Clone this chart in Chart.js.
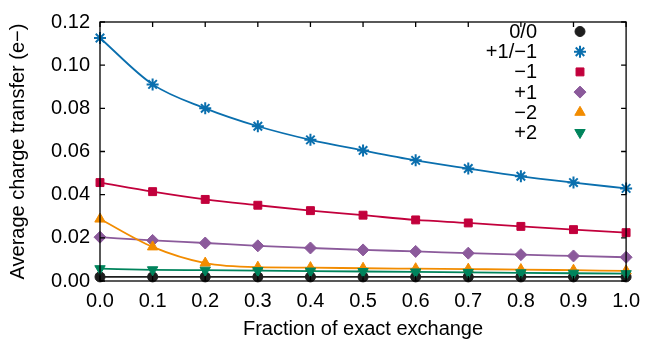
<!DOCTYPE html>
<html><head><meta charset="utf-8">
<script src="https://cdn.jsdelivr.net/npm/chart.js@4/dist/chart.umd.min.js"></script>
<style>html,body{margin:0;padding:0;background:#fff}</style>
</head><body>
<canvas id="c" width="648" height="341"></canvas>
<script>
const xValues = [0.0, 0.1, 0.2, 0.3, 0.4, 0.5, 0.6, 0.7, 0.8, 0.9, 1.0];
const seriesLabels = ['0/0', '+1/\u22121', '\u22121', '+1', '\u22122', '+2'];
const s00   = [0.0019, 0.0019, 0.0019, 0.0019, 0.0019, 0.0019, 0.0019, 0.0019, 0.0019, 0.0019, 0.0019];
const sP1M1 = [0.1126, 0.0911, 0.0800, 0.0717, 0.0654, 0.0605, 0.0559, 0.0521, 0.0485, 0.0456, 0.0429];
const sM1   = [0.0456, 0.0414, 0.0378, 0.0351, 0.0326, 0.0305, 0.0283, 0.0269, 0.0253, 0.0238, 0.0224];
const sP1   = [0.0203, 0.0188, 0.0176, 0.0163, 0.0153, 0.0144, 0.0137, 0.0129, 0.0122, 0.0116, 0.0110];
const sM2   = [0.0287, 0.0158, 0.0083, 0.0064, 0.0062, 0.0059, 0.0057, 0.0055, 0.0053, 0.0050, 0.0047];
const sP2   = [0.0057, 0.0052, 0.0050, 0.0048, 0.0046, 0.0044, 0.0042, 0.0040, 0.0038, 0.0036, 0.0034];
const xTicks = ['0.0','0.1','0.2','0.3','0.4','0.5','0.6','0.7','0.8','0.9','1.0'];
const yTicks = ['0.00','0.02','0.04','0.06','0.08','0.10','0.12'];

const allSeries = [s00, sP1M1, sM1, sP1, sM2, sP2];
const colors = ['#1e1e1e', '#0a6fae', '#c2003c', '#8b5a9b', '#f28c00', '#00845c'];
const styles = ['circle', 'star', 'rect', 'rectRot', 'triangle', 'triangle'];
const rotations = [0, 0, 0, 0, 0, 180];
const radii = [5, 6, 5.6, 6, 6, 6];

const FONT = '"Liberation Sans", Arial, sans-serif';
const FS = 20;

const datasets = allSeries.map((vals, i) => ({
  label: seriesLabels[i],
  data: xValues.map((x, j) => ({x: x, y: vals[j]})),
  borderColor: colors[i],
  backgroundColor: colors[i],
  pointBackgroundColor: colors[i],
  pointBorderColor: colors[i],
  pointBorderWidth: i === 1 ? 2 : 1,
  pointStyle: styles[i],
  rotation: rotations[i],
  pointRadius: radii[i],
  borderWidth: 1.8,
  cubicInterpolationMode: 'monotone',
  clip: false,
  order: 10 - i
}));

const framePlugin = {
  id: 'frame',
  afterDatasetsDraw(chart) {
    const ctx = chart.ctx, a = chart.chartArea;
    const xs = chart.scales.x, ys = chart.scales.y;
    ctx.save();
    ctx.strokeStyle = '#000';
    ctx.lineWidth = 1.3;
    ctx.strokeRect(a.left, a.top, a.right - a.left, a.bottom - a.top);
    ctx.beginPath();
    const tl = 5;
    xValues.forEach(v => {
      const px = xs.getPixelForValue(v);
      ctx.moveTo(px, a.bottom); ctx.lineTo(px, a.bottom - tl);
      ctx.moveTo(px, a.top); ctx.lineTo(px, a.top + tl);
    });
    yTicks.forEach(t => {
      const py = ys.getPixelForValue(parseFloat(t));
      ctx.moveTo(a.left, py); ctx.lineTo(a.left + tl, py);
      ctx.moveTo(a.right, py); ctx.lineTo(a.right - tl, py);
    });
    ctx.stroke();
    // legend
    ctx.font = FS + 'px ' + FONT;
    ctx.textAlign = 'right';
    ctx.textBaseline = 'middle';
    chart.data.datasets.forEach((ds, i) => {
      const y = 31.5 + i * 20.2;
      ctx.fillStyle = '#000';
      ctx.fillText(ds.label, 537, y + 1);
      ctx.fillStyle = ds.backgroundColor;
      ctx.strokeStyle = ds.borderColor;
      ctx.lineWidth = ds.pointBorderWidth;
      Chart.helpers.drawPoint(ctx, {pointStyle: ds.pointStyle, rotation: ds.rotation, radius: ds.pointRadius, borderWidth: ds.pointBorderWidth}, 580, y);
    });
    ctx.restore();
  }
};

new Chart(document.getElementById('c'), {
  type: 'line',
  data: { datasets: datasets },
  plugins: [framePlugin],
  options: {
    responsive: false,
    devicePixelRatio: 1,
    animation: false,
    events: [],
    layout: { padding: { left: 0, right: 16, top: 15, bottom: 0 } },
    plugins: { legend: { display: false }, tooltip: { enabled: false } },
    scales: {
      x: {
        type: 'linear', min: 0, max: 1,
        afterFit: s => { s.height = 60; },
        afterBuildTicks: s => { s.ticks = xValues.map(v => ({value: v})); },
        grid: { display: false, drawTicks: false },
        border: { display: false },
        ticks: {
          padding: 8, color: '#000', font: { family: FONT, size: FS },
          maxRotation: 0, autoSkip: false,
          callback: (v, idx) => xTicks[idx]
        },
        title: { display: true, text: 'Fraction of exact exchange', color: '#000',
                 font: { family: FONT, size: FS }, padding: { top: 0, bottom: 0 } }
      },
      y: {
        type: 'linear', min: 0, max: 0.12,
        afterFit: s => { s.width = 100; },
        afterBuildTicks: s => { s.ticks = yTicks.map(t => ({value: parseFloat(t)})); },
        grid: { display: false, drawTicks: false },
        border: { display: false },
        ticks: {
          padding: 10, color: '#000', font: { family: FONT, size: FS },
          autoSkip: false,
          callback: (v, idx) => yTicks[idx]
        },
        title: { display: true, text: 'Average charge transfer (e\u2212)', color: '#000',
                 font: { family: FONT, size: FS }, padding: { top: 6, bottom: 0 } }
      }
    }
  }
});
</script>
</body></html>
